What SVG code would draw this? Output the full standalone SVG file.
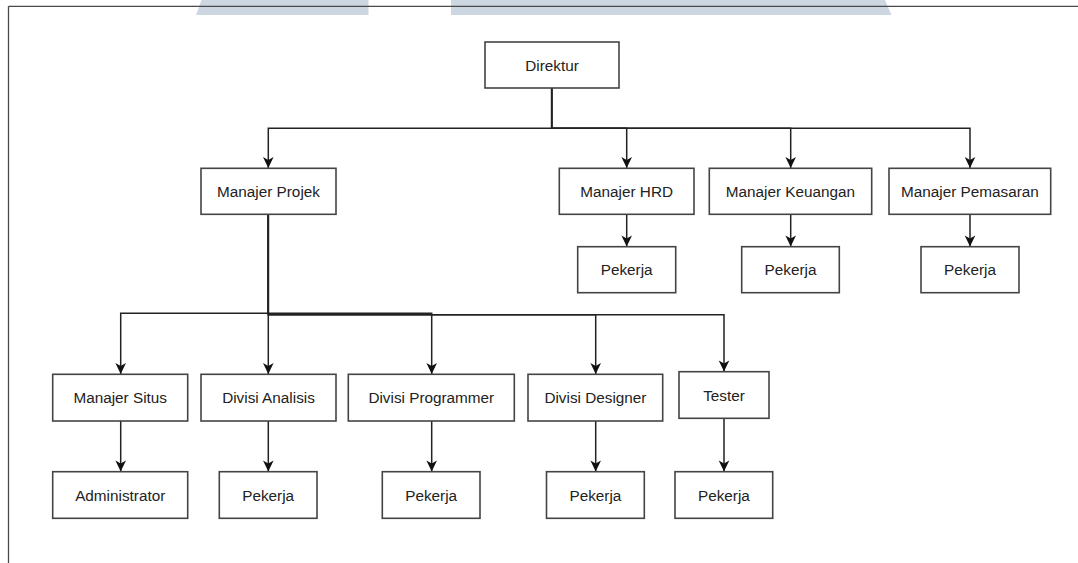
<svg xmlns="http://www.w3.org/2000/svg" width="1078" height="563" viewBox="0 0 1078 563">
<style>
.box{fill:#fff;stroke:#444;stroke-width:1.6}
.t{font-family:"Liberation Sans",Arial,sans-serif;font-size:15.3px;fill:#222;text-anchor:middle}
.c{fill:none;stroke:#222;stroke-width:1.5}
</style>
<defs>
<marker id="ah" markerUnits="userSpaceOnUse" markerWidth="14" markerHeight="14" viewBox="-12 -7 14 14" refX="0" refY="0" orient="auto">
<path d="M0,0 L-11,-5.3 L-8,0 L-11,5.3 Z" fill="#111"/>
</marker>
</defs>
<rect width="1078" height="563" fill="#fff"/>
<g id="frame">
<polygon points="201.5,0 368.5,0 368.5,15 196,15" fill="#cdd7e2"/>
<polygon points="451,0 885,0 891.5,15 451,15" fill="#cdd7e2"/>
<line x1="8.5" y1="6.3" x2="1078" y2="6.3" stroke="#4a4a4a" stroke-width="1.3"/>
<line x1="8.5" y1="6.3" x2="8.5" y2="563" stroke="#4a4a4a" stroke-width="1.3"/>
</g>
<g id="connectors">
<path class="c" d="M551.7 88 V128.3 H268.3 V168" marker-end="url(#ah)"/>
<path class="c" d="M551.7 88 V128.3 H626.7 V168" marker-end="url(#ah)"/>
<path class="c" d="M551.7 88 V128.3 H790.7 V168" marker-end="url(#ah)"/>
<path class="c" d="M551.7 88 V128.3 H970 V168" marker-end="url(#ah)"/>
<path class="c" d="M626.7 214.3 V246.5" marker-end="url(#ah)"/>
<path class="c" d="M790.7 214.3 V246.5" marker-end="url(#ah)"/>
<path class="c" d="M970 214.3 V246.5" marker-end="url(#ah)"/>
<path class="c" d="M268.3 214.3 V313.3 H120.7 V374" marker-end="url(#ah)"/>
<path class="c" d="M268.3 214.3 V374" marker-end="url(#ah)"/>
<path class="c" d="M268.3 214.3 V313.3 H431.7 V374" marker-end="url(#ah)"/>
<path class="c" d="M268.3 214.3 V314.8 H595.7 V374" marker-end="url(#ah)"/>
<path class="c" d="M268.3 214.3 V314.8 H724 V371.5" marker-end="url(#ah)"/>
<path class="c" d="M120.7 421 V471.5" marker-end="url(#ah)"/>
<path class="c" d="M268.3 421 V471.5" marker-end="url(#ah)"/>
<path class="c" d="M431.7 421 V471.5" marker-end="url(#ah)"/>
<path class="c" d="M595.7 421 V471.5" marker-end="url(#ah)"/>
<path class="c" d="M724 418.3 V471.5" marker-end="url(#ah)"/>
</g>
<g id="direktur"><rect class="box" x="485" y="42" width="134" height="46"/><text class="t" x="552" y="70.5">Direktur</text></g>
<g id="manajer-projek"><rect class="box" x="201" y="168.3" width="135" height="46"/><text class="t" x="268.5" y="196.8">Manajer Projek</text></g>
<g id="manajer-hrd"><rect class="box" x="559.3" y="168.3" width="134.7" height="46"/><text class="t" x="626.7" y="196.8">Manajer HRD</text></g>
<g id="manajer-keuangan"><rect class="box" x="709.3" y="168.3" width="162.4" height="46"/><text class="t" x="790.5" y="196.8">Manajer Keuangan</text></g>
<g id="manajer-pemasaran"><rect class="box" x="889" y="168.3" width="161.7" height="46"/><text class="t" x="969.9" y="196.8">Manajer Pemasaran</text></g>
<g id="pekerja-hrd"><rect class="box" x="577.7" y="246.7" width="98" height="46"/><text class="t" x="626.7" y="275.2">Pekerja</text></g>
<g id="pekerja-keuangan"><rect class="box" x="741.7" y="246.7" width="97.6" height="46"/><text class="t" x="790.5" y="275.2">Pekerja</text></g>
<g id="pekerja-pemasaran"><rect class="box" x="921" y="246.7" width="98" height="46"/><text class="t" x="970" y="275.2">Pekerja</text></g>
<g id="manajer-situs"><rect class="box" x="52.7" y="374.3" width="135" height="46.7"/><text class="t" x="120.2" y="403.2">Manajer Situs</text></g>
<g id="divisi-analisis"><rect class="box" x="201" y="374.3" width="135" height="46.7"/><text class="t" x="268.5" y="403.2">Divisi Analisis</text></g>
<g id="divisi-programmer"><rect class="box" x="348.3" y="374.3" width="166" height="46.7"/><text class="t" x="431.3" y="403.2">Divisi Programmer</text></g>
<g id="divisi-designer"><rect class="box" x="528" y="374.3" width="134.7" height="46.7"/><text class="t" x="595.4" y="403.2">Divisi Designer</text></g>
<g id="tester"><rect class="box" x="679" y="371.7" width="90" height="46.6"/><text class="t" x="724" y="400.5">Tester</text></g>
<g id="administrator"><rect class="box" x="52.7" y="471.7" width="135" height="46.6"/><text class="t" x="120.2" y="500.5">Administrator</text></g>
<g id="pekerja-analisis"><rect class="box" x="219.3" y="471.7" width="97.7" height="46.6"/><text class="t" x="268.2" y="500.5">Pekerja</text></g>
<g id="pekerja-programmer"><rect class="box" x="382.3" y="471.7" width="97.7" height="46.6"/><text class="t" x="431.2" y="500.5">Pekerja</text></g>
<g id="pekerja-designer"><rect class="box" x="546.5" y="471.7" width="97.8" height="46.6"/><text class="t" x="595.4" y="500.5">Pekerja</text></g>
<g id="pekerja-tester"><rect class="box" x="675" y="471.7" width="97.7" height="46.6"/><text class="t" x="723.9" y="500.5">Pekerja</text></g>
</svg>
